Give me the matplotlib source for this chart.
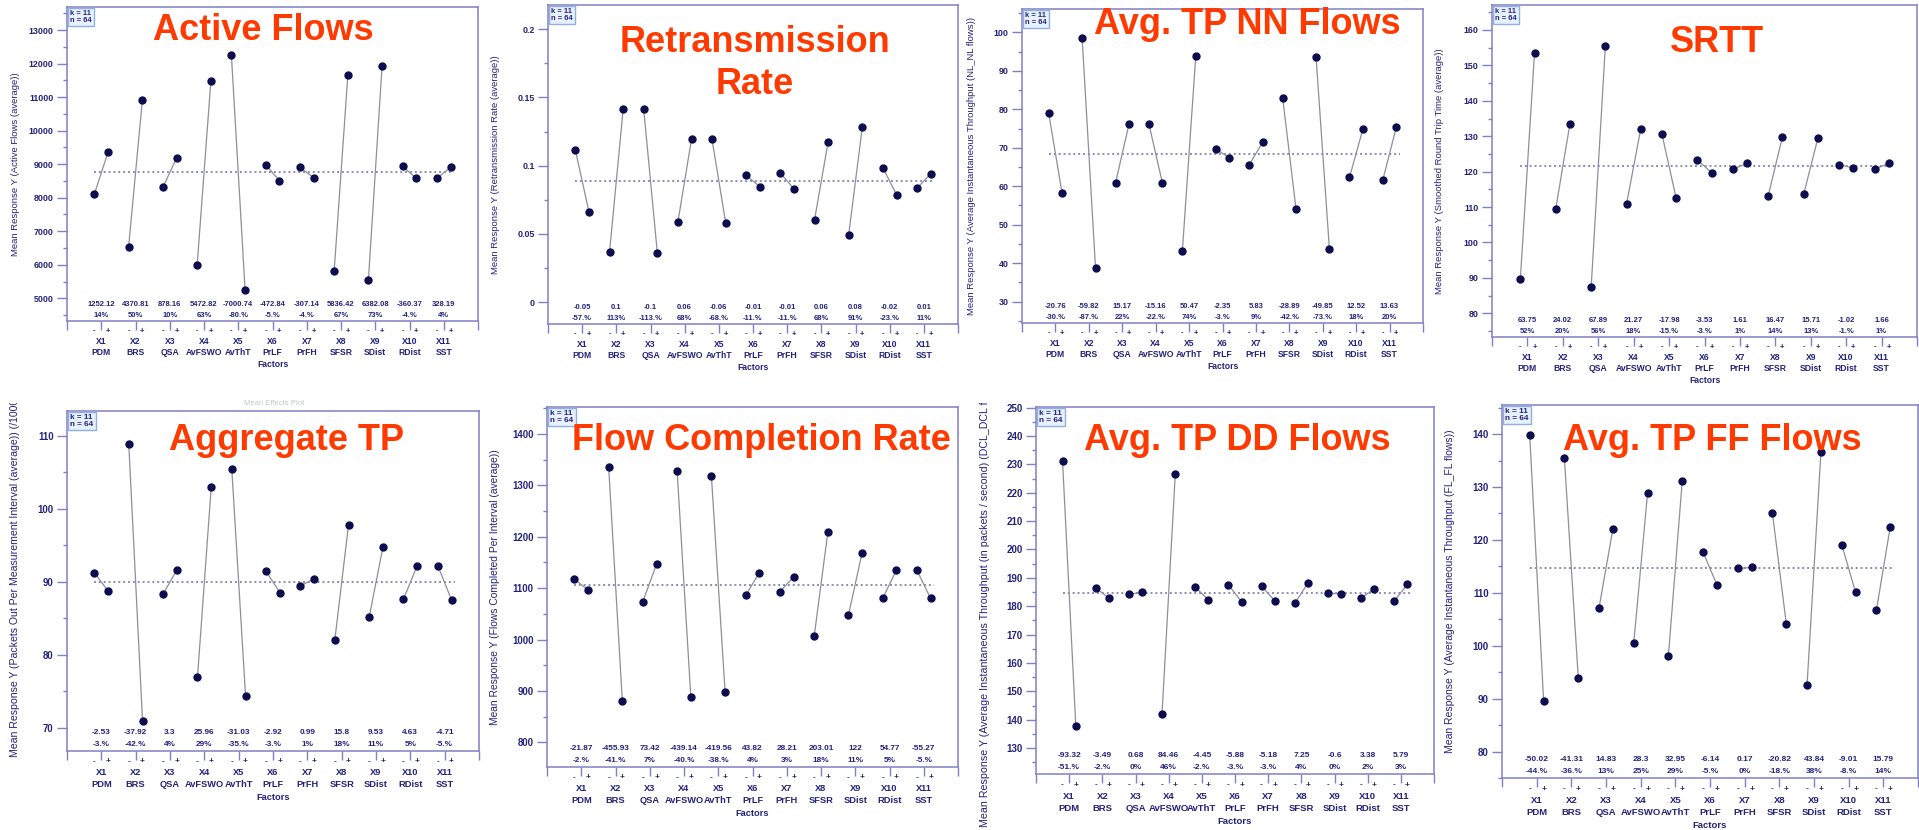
import numpy as np
import matplotlib
matplotlib.use("Agg")
import matplotlib.pyplot as plt
from matplotlib.ticker import MultipleLocator, FormatStrFormatter
from matplotlib.transforms import Bbox, TransformedBbox

plt.rcParams['font.family'] = ['Liberation Sans', 'DejaVu Sans']

W, H = 1919, 830

factors = ["X1", "X2", "X3", "X4", "X5", "X6", "X7", "X8", "X9", "X10", "X11"]
factor_names = ["PDM", "BRS", "QSA", "AvFSWO", "AvThT", "PrLF", "PrFH", "SFSR", "SDist", "RDist", "SST"]

# Active Flows
af_low = [8110, 6540, 8309, 5994, 12250, 8985, 8906, 5815, 5547, 8935, 8578]
af_high = [9362, 10911, 9187, 11467, 5249, 8512, 8599, 11651, 11929, 8575, 8906]
af_mean = 8757
af_effect = ["1252.12", "4370.81", "878.16", "5472.82", "-7000.74", "-472.84", "-307.14", "5836.42", "6382.08", "-360.37", "328.19"]
af_pct = ["14%", "50%", "10%", "63%", "-80.%", "-5.%", "-4.%", "67%", "73%", "-4.%", "4%"]

# Retransmission Rate
rr_low = [0.1115, 0.0366, 0.1415, 0.0585, 0.1193, 0.0929, 0.0946, 0.0602, 0.0493, 0.0985, 0.0834]
rr_high = [0.0661, 0.1412, 0.0363, 0.1193, 0.0583, 0.0846, 0.0829, 0.1176, 0.1283, 0.0788, 0.0941]
rr_mean = 0.0888
rr_effect = ["-0.05", "0.1", "-0.1", "0.06", "-0.06", "-0.01", "-0.01", "0.06", "0.08", "-0.02", "0.01"]
rr_pct = ["-57.%", "113%", "-113.%", "68%", "-68.%", "-11.%", "-11.%", "68%", "91%", "-23.%", "11%"]

# Avg. TP NN Flows
nn_low = [78.9, 98.5, 60.9, 76.1, 43.3, 69.7, 65.6, 83.0, 93.5, 62.3, 61.7]
nn_high = [58.2, 38.7, 76.1, 60.9, 93.8, 67.4, 71.4, 54.1, 43.6, 74.8, 75.3]
nn_mean = 68.5
nn_effect = ["-20.76", "-59.82", "15.17", "-15.16", "50.47", "-2.35", "5.83", "-28.89", "-49.85", "12.52", "13.63"]
nn_pct = ["-30.%", "-87.%", "22%", "-22.%", "74%", "-3.%", "9%", "-42.%", "-73.%", "18%", "20%"]

# SRTT
srtt_low = [89.6, 109.5, 87.4, 110.9, 130.5, 123.3, 120.7, 113.2, 113.6, 122.0, 120.7]
srtt_high = [153.4, 133.5, 155.4, 132.1, 112.5, 119.7, 122.3, 129.8, 129.4, 121.0, 122.3]
srtt_mean = 121.5
srtt_effect = ["63.75", "24.02", "67.89", "21.27", "-17.98", "-3.53", "1.61", "16.47", "15.71", "-1.02", "1.66"]
srtt_pct = ["52%", "20%", "56%", "18%", "-15.%", "-3.%", "1%", "14%", "13%", "-1.%", "1%"]

# Aggregate TP
agg_low = [91.2, 108.8, 88.3, 76.9, 105.4, 91.4, 89.4, 82.0, 85.1, 87.6, 92.2]
agg_high = [88.7, 70.9, 91.6, 102.9, 74.4, 88.5, 90.4, 97.8, 94.7, 92.2, 87.5]
agg_mean = 89.9
agg_effect = ["-2.53", "-37.92", "3.3", "25.96", "-31.03", "-2.92", "0.99", "15.8", "9.53", "4.63", "-4.71"]
agg_pct = ["-3.%", "-42.%", "4%", "29%", "-35.%", "-3.%", "1%", "18%", "11%", "5%", "-5.%"]

# Flow Completion Rate
fcr_low = [1118, 1336, 1074, 1327, 1318, 1086, 1093, 1006, 1047, 1080, 1135]
fcr_high = [1096, 880, 1147, 888, 898, 1130, 1122, 1209, 1169, 1135, 1080]
fcr_mean = 1107
fcr_effect = ["-21.87", "-455.93", "73.42", "-439.14", "-419.56", "43.82", "28.21", "203.01", "122", "54.77", "-55.27"]
fcr_pct = ["-2.%", "-41.%", "7%", "-40.%", "-38.%", "4%", "3%", "18%", "11%", "5%", "-5.%"]

# Avg. TP DD Flows
dd_low = [231.2, 186.4, 184.2, 142.2, 186.7, 187.5, 187.1, 181.0, 184.8, 182.8, 181.9]
dd_high = [137.9, 182.9, 184.9, 226.7, 182.3, 181.6, 181.9, 188.2, 184.2, 186.2, 187.7]
dd_mean = 184.5
dd_effect = ["-93.32", "-3.49", "0.68", "84.46", "-4.45", "-5.88", "-5.18", "7.25", "-0.6", "3.38", "5.79"]
dd_pct = ["-51.%", "-2.%", "0%", "46%", "-2.%", "-3.%", "-3.%", "4%", "0%", "2%", "3%"]

# Avg. TP FF Flows
ff_low = [139.8, 135.4, 107.2, 100.5, 98.1, 117.7, 114.6, 125.1, 92.6, 119.1, 106.7]
ff_high = [89.6, 93.9, 122.1, 128.9, 131.2, 111.5, 114.8, 104.2, 136.6, 110.1, 122.5]
ff_mean = 114.6
ff_effect = ["-50.02", "-41.31", "14.83", "28.3", "32.95", "-6.14", "0.17", "-20.82", "43.84", "-9.01", "15.79"]
ff_pct = ["-44.%", "-36.%", "13%", "25%", "29%", "-5.%", "0%", "-18.%", "38%", "-8.%", "14%"]

panels = [
    dict(title=["Active Flows"], ylabel="Mean Response Y (Active Flows (average))",
         low=af_low, high=af_high, mean=af_mean, effect=af_effect, pct=af_pct),
    dict(title=["Retransmission", "Rate"], ylabel="Mean Response Y (Retransmission Rate (average))",
         low=rr_low, high=rr_high, mean=rr_mean, effect=rr_effect, pct=rr_pct),
    dict(title=["Avg. TP NN Flows"], ylabel="Mean Response Y (Average Instantaneous Throughput (NL_NL flows))",
         low=nn_low, high=nn_high, mean=nn_mean, effect=nn_effect, pct=nn_pct),
    dict(title=["SRTT"], ylabel="Mean Response Y (Smoothed Round Trip Time (average))",
         low=srtt_low, high=srtt_high, mean=srtt_mean, effect=srtt_effect, pct=srtt_pct),
    dict(title=["Aggregate TP"], ylabel="Mean Response Y (Packets Out Per Measurement Interval (average)) (/1000)",
         low=agg_low, high=agg_high, mean=agg_mean, effect=agg_effect, pct=agg_pct),
    dict(title=["Flow Completion Rate"], ylabel="Mean Response Y (Flows Completed Per Interval (average))",
         low=fcr_low, high=fcr_high, mean=fcr_mean, effect=fcr_effect, pct=fcr_pct),
    dict(title=["Avg. TP DD Flows"], ylabel="Mean Response Y (Average Instantaneous Throughput (in packets / second) (DCL_DCL flows))",
         low=dd_low, high=dd_high, mean=dd_mean, effect=dd_effect, pct=dd_pct),
    dict(title=["Avg. TP FF Flows"], ylabel="Mean Response Y (Average Instantaneous Throughput (FL_FL flows))",
         low=ff_low, high=ff_high, mean=ff_mean, effect=ff_effect, pct=ff_pct),
]

# pixel layout of each screenshot panel: frame box (l, t, r, b=axis line)
layouts = [
    dict(box=(67, 7, 478, 321), ylim=(4323, 13686), major=1000, minor=500, tx=263, ty=[40], lx=15, s=1.0),
    dict(box=(548, 5, 958, 324), ylim=(-0.0159, 0.2176), major=0.05, minor=0.025, tx=755, ty=[52, 94], lx=496, s=1.0),
    dict(box=(1022, 9, 1423, 323), ylim=(24.47, 106.05), major=10, minor=5, tx=1247, ty=[34], lx=972, s=1.0),
    dict(box=(1492, 5, 1917, 337), ylim=(73.3, 167.06), major=10, minor=5, tx=1717, ty=[52], lx=1439, s=1.0),
    dict(box=(67, 411, 479, 751), ylim=(66.8, 113.38), major=10, minor=5, tx=286, ty=[450], lx=15, lbottom=757, s=1.08),
    dict(box=(547, 407, 958, 767), ylim=(752, 1452.5), major=100, minor=50, tx=761, ty=[450], lx=495, s=1.08),
    dict(box=(1036, 407, 1434, 774), ylim=(120.9, 250.2), major=10, minor=5, tx=1237, ty=[450], lx=985, lbottom=827, s=1.1),
    dict(box=(1502, 405, 1918, 778), ylim=(75.0, 145.5), major=10, minor=5, tx=1712, ty=[450], lx=1450, s=1.1),
]

frame_c = '#8080c4'
text_c = '#23237e'
marker_c = '#0c0c4e'
seg_c = '#8e8e9e'
mean_c = '#8c8cb4'
title_c = '#ff3a00'
PT = 0.72  # points per pixel at dpi 100


def fx(x):
    return x / W


def fy(y):
    return 1 - y / H


def draw_panel(fig, d, lay):
    l, t, r, b = lay["box"]
    s = lay["s"]
    ax = fig.add_axes([fx(l), fy(b), (r - l) / W, (b - t) / H])
    pos = np.arange(1, 12)
    lo = np.array(d["low"])
    hi = np.array(d["high"])

    ax.plot([0.8, 11.3], [d["mean"], d["mean"]], color=mean_c, lw=1.4, ls=(0, (1, 1.5)), zorder=1)
    for i in range(11):
        ax.plot([pos[i] - 0.2, pos[i] + 0.2], [lo[i], hi[i]], color=seg_c, lw=0.9, zorder=2)
    ax.plot(pos - 0.2, lo, 'o', ms=5.0, color=marker_c, zorder=3)
    ax.plot(pos + 0.2, hi, 'o', ms=5.0, color=marker_c, zorder=3)

    ax.set_xlim(0, 12)
    ax.set_ylim(*lay["ylim"])
    ax.set_xticks(range(13))
    ax.set_xticklabels([])
    ax.tick_params(axis='x', direction='out', length=9 * PT, width=1, color=frame_c)
    ax.yaxis.set_major_locator(MultipleLocator(lay["major"]))
    ax.yaxis.set_minor_locator(MultipleLocator(lay["minor"]))
    ax.yaxis.set_major_formatter(FormatStrFormatter('%g'))
    ax.tick_params(axis='y', which='major', direction='out', length=10 * PT, width=1, color=frame_c,
                   labelsize=6.4 * s, labelcolor=text_c, pad=2.5)
    ax.tick_params(axis='y', which='minor', direction='out', length=4 * PT, width=1, color=frame_c)
    for lab in ax.get_yticklabels():
        lab.set_fontweight('bold')
    for sp in ax.spines.values():
        sp.set_color(frame_c)
        sp.set_linewidth(1.1)

    xt = ax.get_xaxis_transform()
    small = dict(xycoords=xt, textcoords='offset points', ha='center', va='center',
                 color=text_c, fontweight='bold', annotation_clip=False)
    for i in range(11):
        ax.annotate(d["effect"][i], xy=(pos[i], 0), xytext=(0, 17 * PT * s), fontsize=5.5 * s, **small)
        ax.annotate(d["pct"][i], xy=(pos[i], 0), xytext=(0, 6 * PT * s), fontsize=5.5 * s, **small)
        for sign, dx in (("-", -0.2), ("+", 0.2)):
            ax.annotate(sign, xy=(pos[i] + dx, 0), xytext=(0, -10 * PT * s), fontsize=5.5 * s, **small)
        ax.annotate(factors[i], xy=(pos[i], 0), xytext=(0, -20 * PT * s), fontsize=6.2 * s, **small)
        ax.annotate(factor_names[i], xy=(pos[i], 0), xytext=(0, -31 * PT * s), fontsize=6.2 * s, **small)
    ax.annotate("Factors", xy=(6, 0), xytext=(0, -43 * PT * s), fontsize=6.2 * s, **small)

    ax.annotate("k = 11\nn = 64", xy=(0, 1), xycoords='axes fraction', xytext=(2.2, -2.2),
                textcoords='offset points', ha='left', va='top', fontsize=5.4 * s, color=text_c,
                fontweight='bold', linespacing=0.95, zorder=5,
                bbox=dict(boxstyle='square,pad=0.3', fc='#e6f0ff', ec='#8fb0e0', lw=1))

    if "lbottom" in lay:
        tl = fig.text(fx(lay["lx"]), fy(lay["lbottom"]), d["ylabel"], rotation=90, ha='center',
                      va='bottom', fontsize=7.0 * s, color=text_c)
        tl.set_clip_box(TransformedBbox(Bbox.from_extents(0, 0, 1, 1 - 403 / H), fig.transFigure))
        tl.set_clip_on(True)
    else:
        fig.text(fx(lay["lx"]), fy((t + b) / 2), d["ylabel"], rotation=90, ha='center',
                 va='center', fontsize=6.8 * s, color=text_c)

    for line, yb in zip(d["title"], lay["ty"]):
        fig.text(fx(lay["tx"]), fy(yb), line, ha='center', va='baseline', fontsize=26,
                 fontweight='bold', color=title_c, zorder=10)
    return ax


fig = plt.figure(figsize=(W / 100, H / 100), dpi=100)
fig.patch.set_facecolor('white')
for d, lay in zip(panels, layouts):
    draw_panel(fig, d, lay)

# faint caption left over from the original screenshot
fig.text(fx(274), fy(403), "Mean Effects Plot", ha='center', va='center', fontsize=5.5, color='#c4c4d4')

fig.savefig("out.png", dpi=100, facecolor='white')
